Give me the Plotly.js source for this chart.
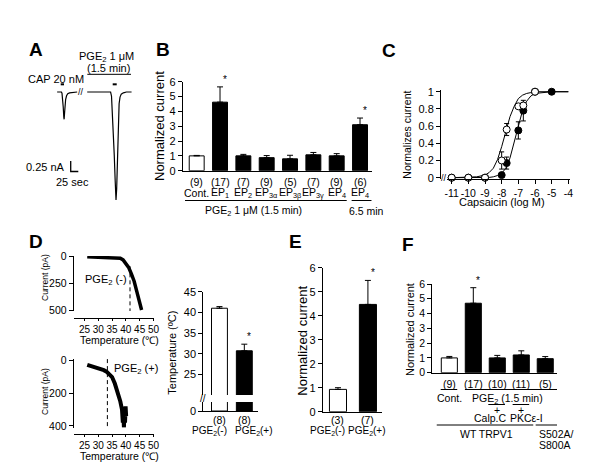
<!DOCTYPE html>
<html><head><meta charset="utf-8">
<script src="https://cdn.plot.ly/plotly-3.0.1.min.js"></script>
<style>html,body{margin:0;padding:0;background:#fff}#plot{width:600px;height:476px}</style>
</head><body><div id="plot"></div>
<script>
// ---------- DATA ----------
// Panel A: current traces (time s, current nA)
const aTime1 = [7, 14, 21, 23, 25, 27, 29, 30, 31.5, 33, 35, 38, 42, 48, 58, 73];
const aCur1  = [0, 0, 0, -0.03, -0.15, -0.35, -0.6, -0.65, -0.5, -0.32, -0.18, -0.09, -0.04, -0.02, -0.01, 0];
const aTime2 = [106, 130, 160, 183, 186, 189, 192, 195, 198, 200.8, 203, 205, 207, 209, 211, 214, 218, 225, 235, 252];
const aCur2  = [0, 0, 0, 0, -0.1, -0.5, -1.0, -1.5, -2.1, -2.57, -2.3, -1.7, -1.1, -0.6, -0.28, -0.12, -0.05, -0.02, 0, 0];
const aCapStim = [18.8, 29.6];
const aPgeStim = [189.9, 203.1];
const aPgeApp  = [106.3, 250.1];
const aScaleNA = 0.25, aScaleSec = 25;

// Panel B
const bCats  = ['Cont.', 'EP1', 'EP2', 'EP3a', 'EP3b', 'EP3g', 'EP4', 'EP4 6.5min'];
const bLabels = ['Cont.', 'EP<sub>1</sub>', 'EP<sub>2</sub>', 'EP<sub>3α</sub>', 'EP<sub>3β</sub>', 'EP<sub>3γ</sub>', 'EP<sub>4</sub>', 'EP<sub>4</sub>'];
const bN     = ['(9)', '(17)', '(7)', '(9)', '(5)', '(7)', '(9)', '(6)'];
const bMean  = [1.0, 4.62, 1.0, 0.88, 0.8, 1.07, 1.0, 3.1];
const bErr   = [0.03, 1.03, 0.1, 0.14, 0.24, 0.16, 0.15, 0.45];
const bSig   = [false, true, false, false, false, false, false, true];

// Panel C: capsaicin dose-response
const cTicks = [-11, -10, -9, -8, -7, -6, -5, -4];
const cTickText = ['-11', '-10', '-9', '-8', '-7', '-6', '-5', '-4'];
const cOpenX = [-11, -10, -9, -8, -7.7, -7, -6.7, -6];
const cOpenY = [0, 0, 0, 0.2, 0.56, 0.83, 0.84, 1.0];
const cOpenE = [0, 0, 0, 0.1, 0.07, 0.02, 0.03, 0];
const cFillX = [-11, -10, -9, -8, -7.7, -7, -6.7, -6, -5];
const cFillY = [0, 0, 0, 0.03, 0.17, 0.55, 0.78, 1.0, 1.0];
const cFillE = [0, 0, 0, 0.02, 0.07, 0.1, 0.12, 0, 0];
const cFitX  = [-11, -10, -9.5, -9, -8.75, -8.5, -8.25, -8, -7.75, -7.5, -7.25, -7, -6.75, -6.5, -6.25, -6, -5, -4];
const cFitOpen = [0, 0.003, 0.01, 0.03, 0.06, 0.11, 0.21, 0.36, 0.54, 0.71, 0.83, 0.92, 0.96, 0.98, 0.99, 1, 1, 1];
const cFitFill = [0, 0, 0, 0.001, 0.003, 0.01, 0.025, 0.05, 0.11, 0.23, 0.41, 0.6, 0.78, 0.89, 0.95, 0.98, 1, 1];

// Panel D: current vs temperature
const dTempNeg = [26, 28, 30, 32, 34, 36, 37, 38, 39, 40, 41, 42, 43, 44, 45, 45.7];
const dCurNeg  = [0, 2, 3, 3, 5, 6, 8, 15, 30, 60, 100, 160, 230, 330, 430, 500];
const dTempPos = [26, 28, 30, 32, 33, 34, 35, 36, 37, 38, 38.6, 38.9, 39.1, 39.3, 39.5, 39.7, 39.9, 40.1];
const dCurPos  = [25, 35, 45, 58, 67, 80, 100, 140, 190, 250, 300, 380, 330, 410, 300, 380, 280, 340];
const dThreshNeg = 41.5, dThreshPos = 33.3;
const dBarCats = ['PGE2(-)', 'PGE2(+)'];
const dBarLabels = ['PGE<sub>2</sub>(-)', 'PGE<sub>2</sub>(+)'];
const dBarN = ['(8)', '(8)'];
const dBarMean = [41.0, 30.7];
const dBarErr = [0.4, 1.6];
const dBarSig = [false, true];

// Panel E
const eCats = ['PGE2(-)', 'PGE2(+)'];
const eLabels = ['PGE<sub>2</sub>(-)', 'PGE<sub>2</sub>(+)'];
const eN = ['(3)', '(7)'];
const eMean = [0.93, 4.47];
const eErr = [0.07, 1.0];
const eSig = [false, true];

// Panel F
const fCats = ['Cont.', 'PGE2', 'PGE2+Calp.C', 'PGE2+PKCe-I', 'S502A/S800A'];
const fN = ['(9)', '(17)', '(10)', '(11)', '(5)'];
const fMean = [1.0, 4.7, 1.0, 1.2, 0.95];
const fErr = [0.1, 1.05, 0.17, 0.28, 0.14];
const fSig = [false, true, false, false, false];

// ---------- HELPERS ----------
const W = 600, H = 476;
const X = p => p / W;
const Y = p => 1 - p / H;
const FONT = 'Liberation Sans, Arial, Helvetica, sans-serif';
const ann = [], shapes = [], traces = [];

function axis(extra) {
  return Object.assign({showgrid: false, zeroline: false, showline: true, linecolor: 'black', linewidth: 1,
    ticks: 'outside', ticklen: 4, tickwidth: 1, tickcolor: 'black', tickfont: {size: 11, color: 'black'},
    tickangle: 0, fixedrange: true}, extra);
}
function txt(text, x, y, o) {
  ann.push(Object.assign({text, x: X(x), y: Y(y), xref: 'paper', yref: 'paper', showarrow: false,
    xanchor: 'center', yanchor: 'middle', font: {size: 10.5}}, o || {}));
}
function catTxt(xref, cat, y, text, o) {
  ann.push(Object.assign({text, x: cat, xref, y: Y(y), yref: 'paper', showarrow: false,
    xanchor: 'center', yanchor: 'middle', font: {size: 10.5}}, o || {}));
}
function hline(xref, x0, x1, y) {
  shapes.push({type: 'line', xref, yref: 'paper', x0, x1, y0: Y(y), y1: Y(y), line: {color: 'black', width: 1}});
}
function bars(xa, ya, cats, mean, err, width, withErr) {
  const t = {type: 'bar', x: cats, y: mean, xaxis: xa, yaxis: ya, width,
    marker: {color: mean.map((_, i) => i === 0 ? 'white' : 'black'), line: {color: 'black', width: 1}},
    hoverinfo: 'skip'};
  if (withErr) t.error_y = {type: 'data', symmetric: false, array: err, arrayminus: err.map(() => 0),
    color: 'black', thickness: 1, width: 3};
  traces.push(t);
}
function stars(xref, yref, cats, mean, err, sig) {
  cats.forEach((c, i) => { if (sig[i]) ann.push({text: '*', x: c, xref, y: mean[i] + err[i], yref,
    yanchor: 'bottom', xanchor: 'center', xshift: 5, showarrow: false, font: {size: 10}}); });
}
function line(xa, ya, x, y, w, dash) {
  traces.push({type: 'scatter', mode: 'lines', x, y, xaxis: xa, yaxis: ya, hoverinfo: 'skip',
    line: {color: 'black', width: w, dash: dash || 'solid'}});
}

// ---------- PANEL A ----------
line('x', 'y', aTime1, aCur1, 1.2);
line('x', 'y', aTime2, aCur2, 1.2);
const stimLevel = 0.183, pgeLevel = 0.421;
line('x', 'y', aCapStim, [stimLevel, stimLevel], 2);
line('x', 'y', aPgeStim, [stimLevel, stimLevel], 2);
line('x', 'y', aPgeApp, [pgeLevel, pgeLevel], 1);
const sbT = 51.7, sbI = -1.643;
line('x', 'y', [sbT, sbT, sbT + aScaleSec], [sbI, sbI - aScaleNA, sbI - aScaleNA], 1.3);
ann.push({text: '//', x: 84.6, y: 0, xref: 'x', yref: 'y', showarrow: false, font: {size: 9}});
txt('CAP 20 nM', 56.3, 79.3, {font: {size: 11}});
txt('PGE<sub>2</sub> 1 μM', 106, 57, {font: {size: 11}});
txt('(1.5 min)', 108.5, 68.3, {font: {size: 11}});
txt('0.25 nA', 66.7, 166.5, {xanchor: 'right', font: {size: 11}});
txt('25 sec', 72.8, 181.7, {font: {size: 11}});

// ---------- PANEL B ----------
bars('x2', 'y2', bCats, bMean, bErr, 0.64, true);
stars('x2', 'y2', bCats, bMean, bErr, bSig);
bCats.forEach((c, i) => { catTxt('x2', c, 181.5, bN[i]); catTxt('x2', c, 192.5, bLabels[i]); });
hline('x2', -0.5, 6.43, 200.5);
hline('x2', 6.64, 7.5, 200.5);
txt('PGE<sub>2</sub> 1 μM (1.5 min)', 253.8, 211);
txt('6.5 min', 366.5, 210.5);
txt('Normalized current', 160, 126, {textangle: -90, font: {size: 13}});

// ---------- PANEL C ----------
line('x3', 'y3', cFitX, cFitOpen, 1);
line('x3', 'y3', cFitX, cFitFill, 1);
traces.push({type: 'scatter', mode: 'markers', x: cFillX, y: cFillY, xaxis: 'x3', yaxis: 'y3', cliponaxis: false,
  marker: {color: 'black', size: 7, line: {color: 'black', width: 1}}, hoverinfo: 'skip',
  error_y: {type: 'data', array: cFillE, color: 'black', thickness: 1, width: 2.5}});
traces.push({type: 'scatter', mode: 'markers', x: cOpenX, y: cOpenY, xaxis: 'x3', yaxis: 'y3', cliponaxis: false,
  marker: {color: 'white', size: 7, line: {color: 'black', width: 1}}, hoverinfo: 'skip',
  error_y: {type: 'data', array: cOpenE, color: 'black', thickness: 1, width: 2.5}});
txt('//', 443.7, 177.5, {font: {size: 9}});
txt('Capsaicin (log M)', 501.5, 202.3, {font: {size: 11}});
txt('Normalizes current', 406.7, 135, {textangle: -90, font: {size: 10.5}});

// ---------- PANEL D (traces) ----------
line('x4', 'y4', dTempNeg, dCurNeg, 3.5);
line('x4', 'y4', [dThreshNeg, dThreshNeg], [90, 510], 1, '4px,3px');
line('x5', 'y5', dTempPos, dCurPos, 4);
line('x5', 'y5', [dThreshPos, dThreshPos], [-10, 410], 1, '4px,3px');
txt('PGE<sub>2</sub> (-)', 105.5, 280, {font: {size: 11}});
txt('PGE<sub>2</sub> (+)', 135.5, 369.3, {font: {size: 11}});
txt('Temperature (℃)', 119.3, 340, {font: {size: 10.5}});
txt('Temperature (℃)', 119.3, 456, {font: {size: 10.5}});
txt('Current (pA)', 45, 278, {textangle: -90, font: {size: 8.5}});
txt('Current (pA)', 45, 392, {textangle: -90, font: {size: 8.5}});

// ---------- PANEL D (bars) ----------
bars('x6', 'y6', dBarCats, dBarMean, dBarErr, 0.64, true);
bars('x6', 'y7', dBarCats, dBarMean, dBarErr, 0.64, false);
stars('x6', 'y6', dBarCats, dBarMean, dBarErr, dBarSig);
const dBarLabelX = [209.7, 253.5];
dBarCats.forEach((c, i) => { catTxt('x6', c, 419.5, dBarN[i]); txt(dBarLabels[i], dBarLabelX[i], 431, {font: {size: 10}}); });
txt('//', 203.3, 398.5, {font: {size: 10}});
txt('Temperature (ºC)', 171.7, 353, {textangle: -90, font: {size: 11}});

// ---------- PANEL E ----------
bars('x7', 'y8', eCats, eMean, eErr, 0.57, true);
stars('x7', 'y8', eCats, eMean, eErr, eSig);
const eLabelX = [327.5, 366.5];
eCats.forEach((c, i) => { catTxt('x7', c, 419.5, eN[i]); txt(eLabels[i], eLabelX[i], 431, {font: {size: 10}}); });
txt('Normalized current', 301.7, 341, {textangle: -90, font: {size: 13}});

// ---------- PANEL F ----------
bars('x8', 'y9', fCats, fMean, fErr, 0.67, true);
stars('x8', 'y9', fCats, fMean, fErr, fSig);
fCats.forEach((c, i) => catTxt('x8', c, 383.5, fN[i]));
hline('x8', -0.36, 0.33, 389.5);
hline('x8', 0.65, 4.54, 389.5);
catTxt('x8', 0, 398, 'Cont.');
catTxt('x8', 2.43, 398.5, 'PGE<sub>2</sub> (1.5 min)');
hline('x8', 1.625, 2.32, 404.5);
hline('x8', 2.64, 3.33, 404.5);
catTxt('x8', 2, 409.5, '+');
catTxt('x8', 3, 409.5, '+');
catTxt('x8', 1.7, 418, 'Calp.C');
catTxt('x8', 3.2, 418, 'PKCε-I');
hline('x8', -0.525, 3.5, 425);
hline('x8', 3.6, 4.57, 425);
catTxt('x8', 1.56, 434, 'WT TRPV1');
txt('S502A/', 537, 433.5, {xanchor: 'left'});
txt('S800A', 537, 444.5, {xanchor: 'left'});
txt('Normalized current', 410, 330, {textangle: -90, font: {size: 11}});

// ---------- PANEL LETTERS ----------
const L = (t, x, y) => txt('<b>' + t + '</b>', x, y, {font: {size: 19}});
L('A', 36.3, 50); L('B', 163, 49.7); L('C', 388.8, 50.3);
L('D', 36, 241); L('E', 295.5, 241.7); L('F', 407.5, 244.7);

// ---------- LAYOUT ----------
const layout = {
  width: W, height: H, margin: {l: 0, r: 0, t: 0, b: 0}, showlegend: false,
  paper_bgcolor: 'white', plot_bgcolor: 'rgba(0,0,0,0)', font: {family: FONT, size: 10.5, color: 'black'},
  barmode: 'overlay',
  xaxis: {domain: [X(55), X(134)], range: [0, 260], visible: false, fixedrange: true},
  yaxis: {domain: [Y(205), Y(50)], range: [-2.69, 1.0], visible: false, fixedrange: true},
  xaxis2: axis({domain: [X(182.7), X(371.7)], range: [-0.6, 7.5], anchor: 'y2', type: 'category',
    ticks: '', showticklabels: false}),
  yaxis2: axis({domain: [Y(170.7), Y(81.7)], range: [0, 6], anchor: 'x2', dtick: 1}),
  xaxis3: axis({domain: [X(447), X(570)], range: [-11.28, -3.9], anchor: 'y3', tickvals: cTicks, ticktext: cTickText,
    tickfont: {size: 10.5}}),
  yaxis3: axis({domain: [Y(179.4), Y(90)], range: [-0.02, 1.02], anchor: 'free', position: X(440),
    tickvals: [0, 0.2, 0.4, 0.6, 0.8, 1], ticktext: ['0', '0.2', '0.4', '0.6', '0.8', '1'], tickfont: {size: 11}}),
  xaxis4: axis({domain: [X(74), X(154)], range: [21.2, 50.2], anchor: 'free', position: Y(317.7),
    tickvals: [25, 30, 35, 40, 45, 50], ticklen: 2, tickfont: {size: 10}}),
  yaxis4: axis({domain: [Y(311.1), Y(255.9)], range: [510, -8], anchor: 'free', position: X(72.7),
    tickvals: [0, 250, 500], tickfont: {size: 10.5}}),
  xaxis5: axis({domain: [X(74), X(154)], range: [21.2, 50.2], anchor: 'free', position: Y(434.3),
    tickvals: [25, 30, 35, 40, 45, 50], ticklen: 2, tickfont: {size: 10}}),
  yaxis5: axis({domain: [Y(427.6), Y(359.1)], range: [410, -10], anchor: 'free', position: X(72.7),
    tickvals: [0, 200, 400], tickfont: {size: 10.5}}),
  xaxis6: axis({domain: [X(203.3), X(258)], range: [-0.65, 1.55], anchor: 'y7', type: 'category',
    ticks: '', showticklabels: false}),
  yaxis6: axis({domain: [Y(395), Y(291.7)], range: [20, 45], anchor: 'x6', tickvals: [25, 30, 35, 40, 45]}),
  yaxis7: axis({domain: [Y(411), Y(402)], range: [0, 2.18], anchor: 'x6', tickvals: [0]}),
  xaxis7: axis({domain: [X(322.7), X(382)], range: [-0.51, 1.47], anchor: 'y8', type: 'category',
    ticks: '', showticklabels: false}),
  yaxis8: axis({domain: [Y(411.7), Y(267.7)], range: [0, 6], anchor: 'x7', dtick: 1}),
  xaxis8: axis({domain: [X(432.3), X(557)], range: [-0.71, 4.49], anchor: 'y9', type: 'category',
    ticks: '', showticklabels: false}),
  yaxis9: axis({domain: [Y(372.7), Y(284)], range: [0, 6], anchor: 'x8', dtick: 1, tickfont: {size: 10.5}}),
  annotations: ann, shapes: shapes
};

Plotly.newPlot('plot', traces, layout, {staticPlot: true, displayModeBar: false});
</script>
</body></html>
